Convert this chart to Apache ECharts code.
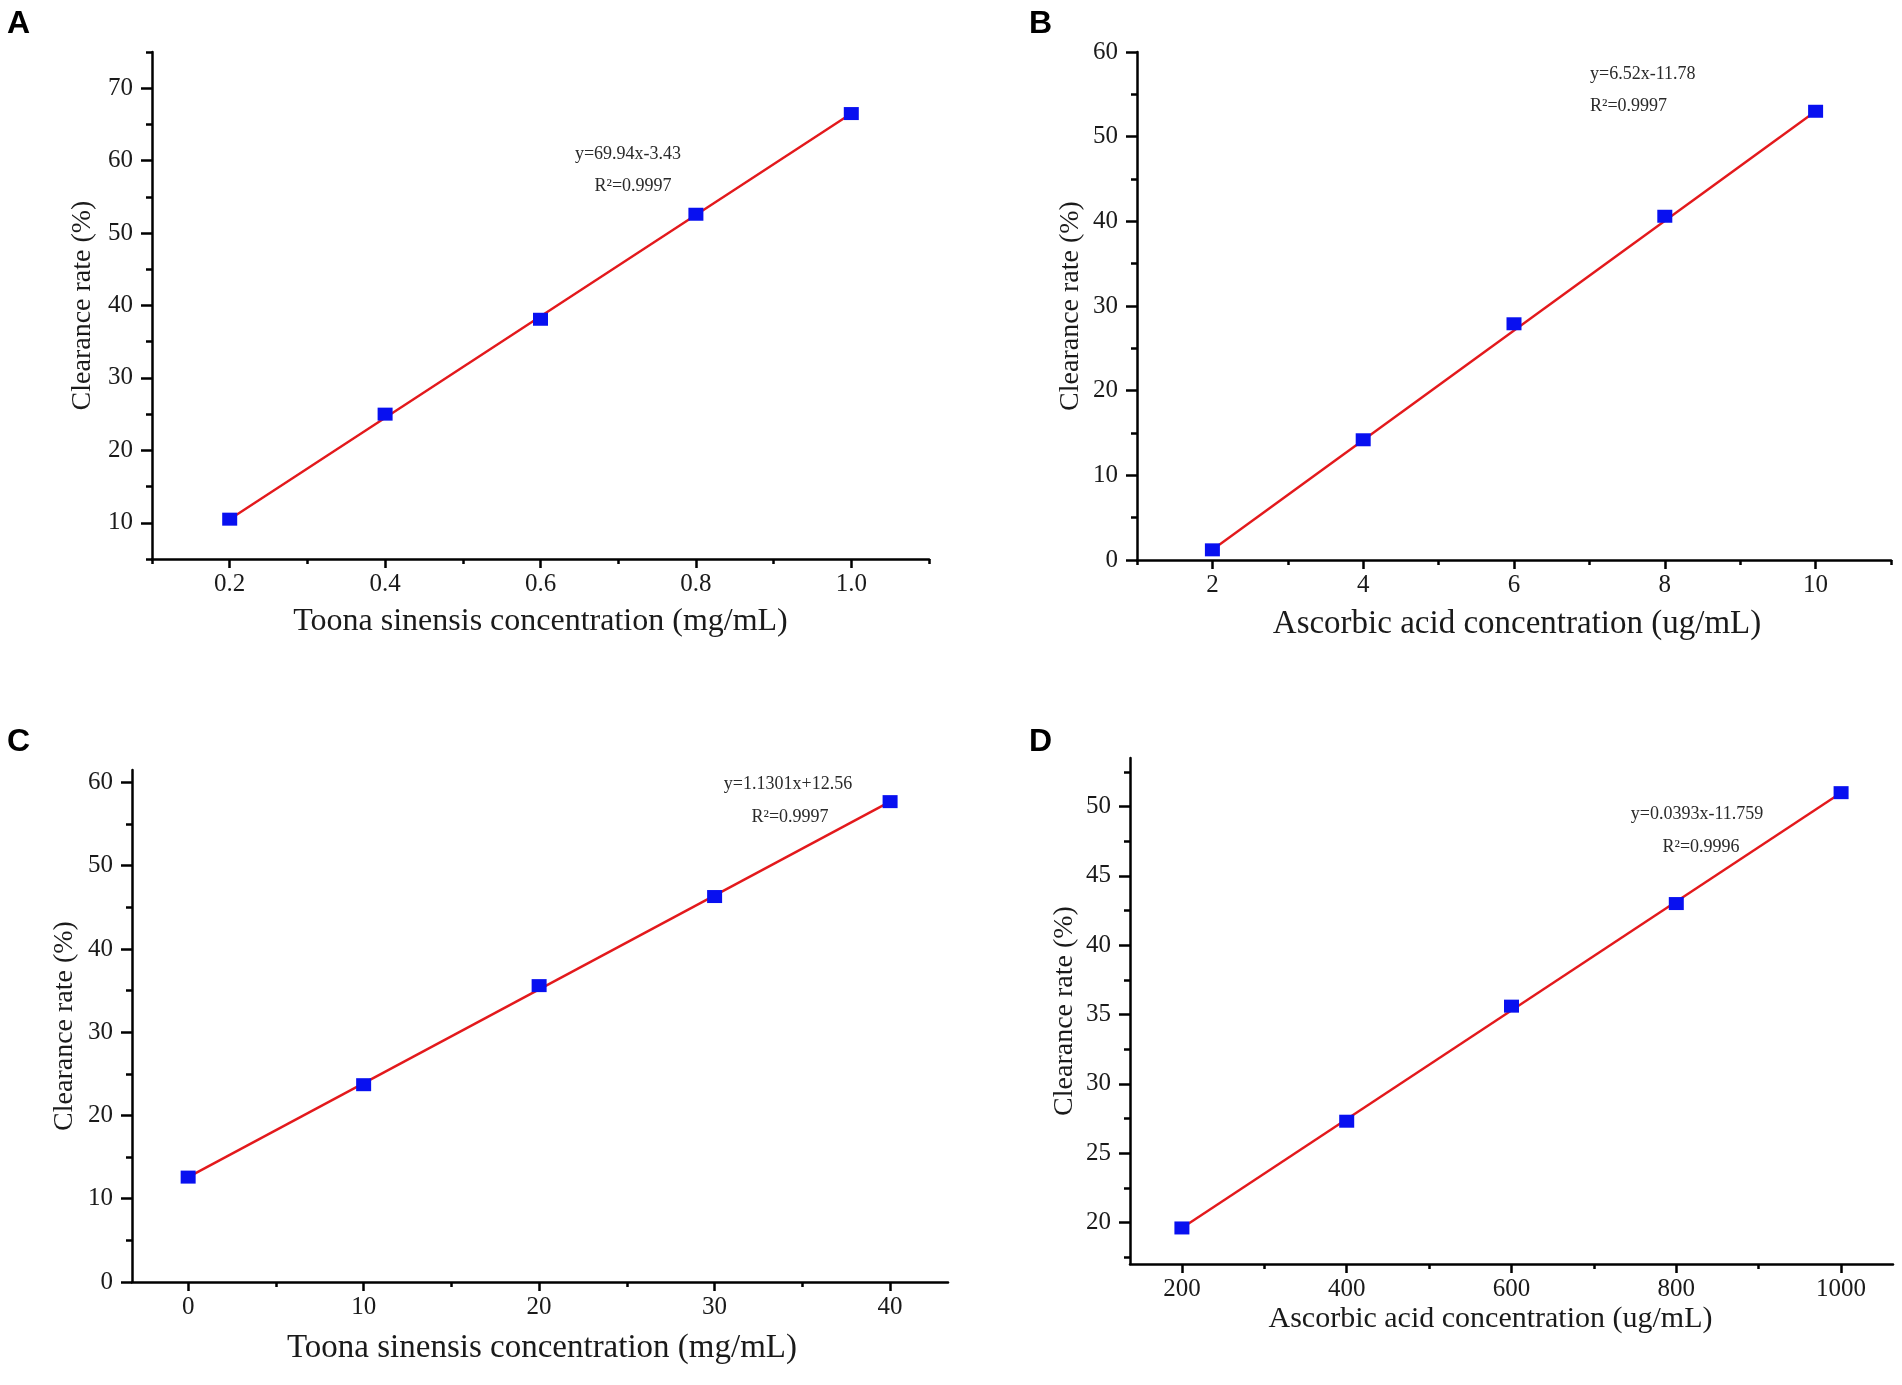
<!DOCTYPE html>
<html>
<head>
<meta charset="utf-8">
<script src="https://cdn.jsdelivr.net/npm/echarts@6/dist/echarts.min.js"></script>
<style>
  html, body { margin: 0; padding: 0; background: #fff; }
  #main { width: 1902px; height: 1385px; }
</style>
</head>
<body>
<div id="main"></div>
<script>
// values
var concA = [0.2, 0.4, 0.6, 0.8, 1.0];
var rateA = [10.5, 25.0, 38.1, 52.6, 66.5];
var concB = [2, 4, 6, 8, 10];
var rateB = [1.2, 14.2, 27.9, 40.6, 53.0];
var concC = [0, 10, 20, 30, 40];
var rateC = [12.6, 23.7, 35.6, 46.3, 57.7];
var concD = [200, 400, 600, 800, 1000];
var rateD = [19.6, 27.3, 35.6, 43.0, 51.0];

// tick labels (major) and minor tick positions
var xTicksA = [0.2, 0.4, 0.6, 0.8, 1.0];
var xMinorA = [0.1, 0.3, 0.5, 0.7, 0.9, 1.1];
var yTicksA = [10, 20, 30, 40, 50, 60, 70];
var yMinorA = [5, 15, 25, 35, 45, 55, 65, 75];
var xTicksB = [2, 4, 6, 8, 10];
var xMinorB = [1, 3, 5, 7, 9, 11];
var yTicksB = [0, 10, 20, 30, 40, 50, 60];
var yMinorB = [5, 15, 25, 35, 45, 55];
var xTicksC = [0, 10, 20, 30, 40];
var xMinorC = [5, 15, 25, 35];
var yTicksC = [0, 10, 20, 30, 40, 50, 60];
var yMinorC = [5, 15, 25, 35, 45, 55];
var xTicksD = [200, 400, 600, 800, 1000];
var xMinorD = [300, 500, 700, 900];
var yTicksD = [20, 25, 30, 35, 40, 45, 50];
var yMinorD = [17.5, 22.5, 27.5, 32.5, 37.5, 42.5, 47.5, 52.5];

var eqTexts = ['y=69.94x-3.43', 'y=6.52x-11.78', 'y=1.1301x+12.56', 'y=0.0393x-11.759'];
var r2Texts = ['R\u00b2=0.9997', 'R\u00b2=0.9997', 'R\u00b2=0.9997', 'R\u00b2=0.9996'];
var xNames = ['Toona sinensis concentration (mg/mL)', 'Ascorbic acid concentration (ug/mL)',
              'Toona sinensis concentration (mg/mL)', 'Ascorbic acid concentration (ug/mL)'];
var yName = 'Clearance rate (%)';
var letters = ['A', 'B', 'C', 'D'];

var serif = 'Liberation Serif';
var ink = '#1a1a1a';

var plain = function (v) { return String(v); };

var panels = [
  { grid: {left: 152, top: 52, width: 777, height: 507},
    x: concA, y: rateA, xr: [0.1, 1.1], yr: [5, 75],
    xt: xTicksA, xm: xMinorA, yt: yTicksA, ym: yMinorA,
    fmt: function (v) { return v.toFixed(1); },
    xFont: 32, xGap: 47, xPad: [0, 0, 0, 0], yGap: 55,
    letter: [7, 8], eq: [628, 154, 'center'], r2: [633, 186, 'center'] },
  { grid: {left: 1137, top: 52, width: 754, height: 508},
    x: concB, y: rateB, xr: [1, 11], yr: [0, 60],
    xt: xTicksB, xm: xMinorB, yt: yTicksB, ym: yMinorB,
    fmt: plain, xFont: 33, xGap: 48, xPad: [0, 0, 0, 6], yGap: 52,
    letter: [1029, 8], eq: [1590, 74, 'left'], r2: [1590, 106, 'left'] },
  { grid: {left: 132, top: 770, width: 816, height: 512},
    x: concC, y: rateC, xr: [-3.2, 43.3], yr: [0, 61.5],
    xt: xTicksC, xm: xMinorC, yt: yTicksC, ym: yMinorC,
    fmt: plain, xFont: 33, xGap: 50, xPad: [0, 0, 0, 4], yGap: 53,
    letter: [7, 726], eq: [788, 784, 'center'], r2: [790, 817, 'center'] },
  { grid: {left: 1130, top: 758, width: 763, height: 506},
    x: concD, y: rateD, xr: [137, 1063], yr: [17, 53.5],
    xt: xTicksD, xm: xMinorD, yt: yTicksD, ym: yMinorD,
    fmt: plain, xFont: 30, xGap: 40, xPad: [0, 42, 0, 0], yGap: 51,
    letter: [1029, 726], eq: [1697, 814, 'center'], r2: [1701, 847, 'center'] }
];

var grids = [], xAxes = [], yAxes = [], series = [], graphics = [];
var tickStyle = {color: '#000', width: 2.5};

panels.forEach(function (p, i) {
  grids.push(Object.assign({}, p.grid));

  // major x axis
  xAxes.push({
    type: 'value', gridIndex: i, position: 'bottom', min: p.xr[0], max: p.xr[1],
    name: xNames[i], nameLocation: 'middle', nameGap: p.xGap,
    nameTextStyle: {fontFamily: serif, fontSize: p.xFont, color: ink, padding: p.xPad},
    axisLine: {show: true, onZero: false, lineStyle: {color: '#000', width: 2.5}},
    axisTick: {show: true, inside: false, length: 9, customValues: p.xt, lineStyle: tickStyle},
    axisLabel: {show: true, customValues: p.xt, margin: 13, fontFamily: serif, fontSize: 25, color: ink,
                formatter: p.fmt},
    splitLine: {show: false}
  });
  // minor x ticks
  xAxes.push({
    type: 'value', gridIndex: i, position: 'bottom', offset: 0, min: p.xr[0], max: p.xr[1],
    axisLine: {show: false, onZero: false},
    axisTick: {show: true, inside: false, length: 5, customValues: p.xm, lineStyle: tickStyle},
    axisLabel: {show: false}, splitLine: {show: false}
  });
  // major y axis
  yAxes.push({
    type: 'value', gridIndex: i, position: 'left', min: p.yr[0], max: p.yr[1],
    name: yName, nameLocation: 'middle', nameGap: p.yGap,
    nameTextStyle: {fontFamily: serif, fontSize: 28, color: ink},
    axisLine: {show: true, onZero: false, lineStyle: {color: '#000', width: 2.5}},
    axisTick: {show: true, inside: false, length: 11, customValues: p.yt, lineStyle: tickStyle},
    axisLabel: {show: true, customValues: p.yt, margin: 19, fontFamily: serif, fontSize: 25, color: ink},
    splitLine: {show: false}
  });
  // minor y ticks
  yAxes.push({
    type: 'value', gridIndex: i, position: 'left', offset: 0, min: p.yr[0], max: p.yr[1],
    axisLine: {show: false, onZero: false},
    axisTick: {show: true, inside: false, length: 6, customValues: p.ym, lineStyle: tickStyle},
    axisLabel: {show: false}, splitLine: {show: false}
  });

  var pts = p.x.map(function (v, k) { return [v, p.y[k]]; });
  var n = pts.length - 1;

  // fitted line between the first and last measured points
  series.push({
    type: 'line', xAxisIndex: i * 2, yAxisIndex: i * 2,
    data: [pts[0], pts[n]], symbol: 'none', silent: true,
    lineStyle: {color: '#e3191c', width: 2.4}, z: 2
  });
  series.push({
    type: 'scatter', xAxisIndex: i * 2, yAxisIndex: i * 2,
    data: pts, symbol: 'rect', symbolSize: [15, 13],
    itemStyle: {color: '#0810f0', opacity: 1}, z: 3
  });

  graphics.push({
    type: 'text', x: p.letter[0], y: p.letter[1],
    style: {text: letters[i], font: 'bold 32px "Liberation Sans"', fill: '#000'}
  });
  graphics.push({
    type: 'text', x: p.eq[0], y: p.eq[1],
    style: {text: eqTexts[i], font: '18px "Liberation Serif"', fill: '#2a2a2a',
            align: p.eq[2], verticalAlign: 'middle'}
  });
  graphics.push({
    type: 'text', x: p.r2[0], y: p.r2[1],
    style: {text: r2Texts[i], font: '18px "Liberation Serif"', fill: '#2a2a2a',
            align: p.r2[2], verticalAlign: 'middle'}
  });
});

var chartDom = document.getElementById('main');
var myChart = echarts.init(chartDom, null, {renderer: 'canvas'});
var option = {
  backgroundColor: '#fff',
  animation: false,
  grid: grids,
  xAxis: xAxes,
  yAxis: yAxes,
  series: series,
  graphic: graphics
};
option && myChart.setOption(option);
</script>
</body>
</html>
